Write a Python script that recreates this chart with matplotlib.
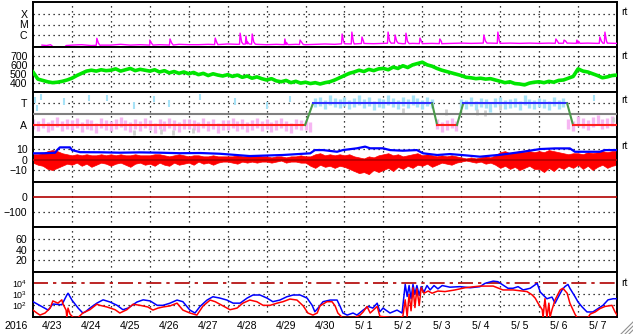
import numpy as np
import matplotlib
matplotlib.use("Agg")
import matplotlib.pyplot as plt
from matplotlib.lines import Line2D
from matplotlib.ticker import NullLocator

plt.rcParams["font.family"] = ["Liberation Sans", "DejaVu Sans"]
plt.rcParams["font.size"] = 7.6
plt.rcParams["mathtext.fontset"] = "custom"
plt.rcParams["mathtext.rm"] = "Liberation Sans"

# ---- data (time in days since 2016-04-23 00:00) ----
DATE_LABELS = ["4/23", "4/24", "4/25", "4/26", "4/27", "4/28", "4/29", "4/30",
               "5/ 1", "5/ 2", "5/ 3", "5/ 4", "5/ 5", "5/ 6", "5/ 7"]
YEAR = "2016"

# X-ray flux: quiet background + flares
xray_base_t = [0.23, 0.35, 0.45, 0.55, 0.8, 0.85, 1.0, 1.25, 1.5, 1.75, 2.0, 2.25, 2.5, 2.75,
               3.0, 3.25, 3.5, 3.75, 4.0, 4.25, 4.5, 4.75, 5.0, 5.25, 5.5, 5.75, 6.0, 6.25,
               6.5, 6.75, 7.0, 7.25, 7.5, 7.75, 8.0, 8.25, 8.5, 8.75, 9.0, 9.25, 9.5, 9.75,
               10.0, 10.25, 10.5, 10.75, 11.0, 11.25, 11.5, 11.75, 12.0, 12.25, 12.5, 12.75,
               13.0, 13.25, 13.5, 13.75, 14.0, 14.25, 14.5, 14.75, 15.0]
xray_base_f = [1.1e-7, 1.0e-7, 1.2e-7, 0.6e-7, 0.6e-7, 1.0e-7, 1.1e-7, 1.2e-7, 1.0e-7, 1.1e-7,
               1.1e-7, 1.3e-7, 1.1e-7, 1.2e-7, 1.1e-7, 1.2e-7, 1.1e-7, 1.3e-7, 1.2e-7, 1.2e-7,
               1.3e-7, 1.2e-7, 1.4e-7, 1.3e-7, 1.4e-7, 1.3e-7, 1.2e-7, 1.3e-7, 1.2e-7, 1.3e-7,
               1.2e-7, 1.3e-7, 1.4e-7, 1.3e-7, 1.5e-7, 1.4e-7, 1.6e-7, 1.5e-7, 1.6e-7, 1.7e-7,
               1.5e-7, 1.6e-7, 1.5e-7, 1.6e-7, 1.5e-7, 1.6e-7, 1.7e-7, 1.6e-7, 1.7e-7, 1.7e-7,
               1.6e-7, 1.7e-7, 1.6e-7, 1.7e-7, 1.6e-7, 1.7e-7, 1.6e-7, 1.7e-7, 1.6e-7, 1.7e-7,
               1.6e-7, 1.7e-7, 1.6e-7]
flare_t = [1.64, 3.0, 3.52, 4.68, 5.32, 5.47, 5.63, 6.47, 6.86, 7.94, 8.19, 8.45, 9.12,
           9.3, 9.58, 9.94, 10.45, 11.58, 11.94, 13.43, 13.64, 13.97, 14.56, 14.69]
flare_f = [4.9e-7, 3.3e-7, 4.2e-7, 5.1e-7, 1.5e-6, 8.0e-7, 1.25e-6, 4.2e-7, 3.3e-7, 1.25e-6,
           1.9e-6, 6.5e-7, 1.9e-6, 1.0e-6, 1.5e-6, 5.1e-7, 4.2e-7, 1.0e-6, 1.9e-6, 4.2e-7,
           3.3e-7, 3.3e-7, 6.5e-7, 1.9e-6]

# solar wind speed, every 3 h
speed = [520, 440, 425, 410, 400, 405, 415, 430,
         450, 480, 505, 530, 540, 530, 545, 535,
         540, 555, 530, 545, 560, 535, 550, 540,
         530, 545, 520, 535, 510, 525, 505, 520,
         500, 515, 490, 505, 480, 500, 485, 475,
         490, 470, 485, 460, 475, 450, 465, 445,
         430, 445, 420, 410, 425, 400, 415, 395,
         405, 390, 400, 385, 400, 410, 430, 455,
         480, 505, 520, 540, 525, 550, 535, 555,
         560, 545, 575, 560, 590, 570, 600, 615,
         630, 600, 585, 560, 540, 525, 510, 495,
         480, 460, 455, 445, 450, 440, 445, 430,
         415, 400, 410, 390, 385, 375, 395, 405,
         410, 400, 415, 405, 425, 430, 450, 470,
         555, 530, 520, 500, 480, 455, 465, 480,
         485]

# IMF direction (T = +1, A = -1), every 3 h
phi = [-0.9, -1.1, -0.8, -1.2, -1.0, -0.7, -1.1, -0.9,
       -1.0, -0.8, -1.2, -0.9, -1.0, -1.3, -0.8, -1.0,
       -1.1, -0.9, -0.7, -1.0, -1.2, -0.9, -1.1, -0.8,
       -1.0, -1.3, -0.9, -1.1, -0.8, -1.0, -1.2, -0.9,
       -0.9, -1.0, -1.2, -0.8, -1.1, -0.9, -1.3, -1.0,
       -1.0, -0.8, -1.1, -0.9, -1.2, -1.0, -0.8, -1.1,
       -0.9, -1.2, -1.0, -0.8, -1.1, -1.3, -0.9, -1.0,
       -1.0, -1.2, 1.1, 1.2, 0.9, 1.3, 1.1, 1.0,
       1.2, 0.9, 1.1, 1.3, 1.0, 1.2, 0.8, 1.1,
       1.0, 1.3, 1.1, 0.9, 1.2, 1.0, 1.3, 1.1,
       0.9, 1.2, 1.0, -0.9, -1.2, -1.0, -0.8, -1.1,
       1.0, 0.9, 1.2, 0.8, 1.1, 1.0, 0.7, 1.1,
       1.2, 0.9, 1.0, 1.1, 0.8, 1.3, 1.0, 0.9,
       1.1, 1.0, 0.8, 1.2, 0.9, 1.1, -0.9, -1.1,
       -0.6, -0.8, -1.0, -0.7, -0.5, -0.9, -0.8, -0.6,
       -0.8]
toward_out_t = [0.05, 0.1, 0.2, 0.8, 1.45, 1.9, 2.6, 3.1, 3.5, 4.3, 5.2, 6.0, 6.6, 14.4]
toward_out_v = [1.3, 0.6, 1.6, 1.2, 1.5, 1.5, 0.8, 1.4, 1.0, 1.6, 1.2, 0.8, 1.4, 1.5]
gray_out_t = [2.6, 3.3, 3.6, 4.1, 9.5, 10.6, 11.4, 11.6, 12.0, 14.9]
gray_out_v = [-1.7, -1.6, -1.7, -1.5, 0.3, 0.2, 0.2, 0.1, 0.6, -0.5]
sector_t = [0.0, 6.99, 7.19, 10.25, 10.38, 10.89, 11.05, 13.72, 13.87, 15.0]
sector_v = [-1, -1, 1, 1, -1, -1, 1, 1, -1, -1]

# IMF Bt and Bz envelope (nT)
bt_t = [0.0, 0.31, 0.57, 0.62, 0.69, 0.95, 1.0, 1.21, 1.72, 2.23, 2.75, 3.26, 3.78, 4.29,
        4.8, 5.57, 6.42, 7.12, 7.24, 7.45, 7.81, 7.96, 8.32, 8.53, 8.66, 8.99, 9.17, 9.5,
        9.86, 10.02, 10.38, 10.71, 11.1, 11.48, 12.0, 12.51, 13.03, 13.41, 13.79, 13.92,
        14.56, 14.69, 15.0]
bt = [5.9, 6.0, 6.5, 9.0, 11.6, 11.6, 9.0, 7.0, 6.9, 6.5, 6.8, 6.5, 6.0, 6.2,
      5.5, 3.3, 4.3, 5.9, 9.0, 9.0, 7.4, 9.0, 10.7, 12.3, 10.7, 10.7, 9.0, 8.4,
      9.0, 5.9, 4.3, 5.2, 4.0, 2.7, 4.5, 7.0, 10.0, 10.6, 10.6, 7.4,
      7.4, 9.0, 9.0]
bz_hi = [5, 5, 6, 8, 9, 8, 6, 5,
         4, 5, 4, 5, 4, 4, 5, 4,
         5, 4, 5, 4, 4, 5, 4, 4,
         4, 5, 5, 4, 3, 4, 5, 4,
         3, 4, 4, 3, 3, 4, 3, 3,
         3, 3, 4, 3, 3, 3, 4, 3,
         3, 2, 3, 3, 2, 3, 3, 4,
         3, 3, 5, 6, 4, 5, 4, 5,
         4, 5, 3, 2, 1, 3, 2, 4,
         5, 6, 4, 5, 3, 4, 5, 6,
         4, 5, 4, 3, 4, 3, 4, 3,
         2, 1, 2, 1, 2, 3, 2, 4,
         7, 8, 6, 7, 8, 7, 8, 7,
         8, 7, 9, 8, 7, 6, 5, 6,
         6, 5, 7, 6, 7, 8, 7, 8,
         8]
bz_lo = [-3, -5, -6, -9, -10, -8, -6, -4,
         -5, -3, -6, -4, -7, -5, -3, -4,
         -6, -4, -3, -5, -7, -4, -3, -5,
         -4, -6, -3, -5, -6, -3, -5, -4,
         -3, -5, -2, -4, -3, -5, -3, -2,
         -2, -3, -4, -2, -3, -2, -3, -2,
         -2, -3, -2, -1, -3, -2, -2, -3,
         -3, -6, -8, -5, -7, -6, -8, -6,
         -7, -9, -11, -13, -12, -14, -10, -12,
         -10, -8, -11, -7, -9, -6, -8, -5,
         -6, -4, -7, -5, -3, -4, -5, -3,
         -2, -1, -2, -3, -2, -4, -3, -5,
         -8, -6, -9, -7, -10, -8, -6, -9,
         -9, -12, -8, -11, -7, -9, -6, -8,
         -5, -9, -6, -10, -7, -5, -8, -6,
         -5]

# electron flux (two channels)
e_blue_t = [0.0, 0.39, 0.51, 0.74, 0.87, 0.9, 1.0, 1.16, 1.28, 1.34, 1.46, 1.64, 1.8, 1.98,
            2.16, 2.31, 2.44, 2.67, 2.83, 3.01, 3.19, 3.34, 3.52, 3.7, 3.85, 4.03, 4.16,
            4.29, 4.47, 4.62, 4.8, 4.98, 5.14, 5.32, 5.5, 5.65, 5.83, 6.01, 6.16, 6.34,
            6.52, 6.68, 6.86, 7.04, 7.17, 7.24, 7.32, 7.45, 7.63, 7.81, 7.89, 7.96, 8.07,
            8.22, 8.32, 8.48, 8.61, 8.73, 8.84, 8.91, 8.99, 9.17, 9.35, 9.48, 9.56, 9.61,
            9.66, 9.71, 9.76, 9.81, 9.86, 9.92, 9.97, 10.04, 10.12, 10.2, 10.3, 10.4,
            10.51, 10.71, 10.97, 11.23, 11.48, 11.61, 11.82, 11.94, 12.07, 12.2, 12.33,
            12.46, 12.59, 12.77, 12.95, 13.03, 13.2, 13.33, 13.41, 13.49, 13.59, 13.66,
            13.74, 13.79, 13.92, 14.0, 14.1, 14.23, 14.38, 14.51, 14.64, 14.77, 14.9, 15.0]
e_blue = [214, 37, 132, 112, 870, 1260, 302, 56, 20, 25, 56, 158, 316, 200,
          100, 40, 56, 200, 316, 251, 100, 100, 158, 302, 214, 37, 20,
          79, 302, 603, 457, 302, 158, 158, 457, 870, 870, 457, 214, 302,
          603, 870, 870, 457, 100, 26, 56, 214, 302, 302, 79, 20, 13,
          20, 13, 37, 79, 56, 158, 26, 56, 20, 37, 20, 7940, 630,
          6310, 400, 7940, 1000, 6310, 800, 5010, 1580, 6310, 2510, 6310, 3160,
          6310, 4470, 5010, 3980, 5010, 10000, 15800, 14100, 7080, 3550, 3550,
          5010, 2510, 3550, 10000, 1580, 398, 562, 158, 562, 2510, 5010,
          7940, 3550, 631, 200, 74, 25, 25, 50, 100, 316, 398, 398]
e_red_t = [0.0, 0.1, 0.18, 0.31, 0.44, 0.51, 0.64, 0.74, 0.77, 0.85, 0.87, 0.9, 0.95, 1.03,
           1.16, 1.28, 1.46, 1.64, 1.72, 1.9, 2.11, 2.23, 2.41, 2.57, 2.75, 2.95, 3.08,
           3.21, 3.34, 3.52, 3.7, 3.85, 4.03, 4.21, 4.37, 4.55, 4.68, 4.88, 5.06, 5.24,
           5.39, 5.57, 5.75, 5.91, 6.09, 6.27, 6.42, 6.6, 6.78, 6.94, 7.06, 7.19, 7.3,
           7.37, 7.55, 7.68, 7.76, 7.83, 7.94, 8.27, 8.4, 8.48, 8.58, 8.66, 8.84, 8.91,
           9.17, 9.43, 9.5, 9.56, 9.61, 9.66, 9.71, 9.76, 9.81, 9.86, 9.92, 9.97, 10.04,
           10.15, 10.25, 10.4, 10.58, 10.84, 11.1, 11.35, 11.48, 11.82, 12.07, 12.33,
           12.69, 12.82, 12.9, 12.97, 13.08, 13.1, 13.15, 13.2, 13.25, 13.28, 13.33,
           13.41, 13.54, 13.61, 13.72, 13.79, 13.92, 13.97, 14.26, 14.31, 14.44, 14.56,
           14.69, 14.87, 14.95, 15.0]
e_red = [37, 20, 13, 20, 56, 251, 158, 316, 132, 37, 8, 56, 16, 8,
         8, 20, 40, 126, 100, 71, 40, 20, 40, 126, 100, 71, 37,
         56, 71, 89, 158, 37, 20, 13, 89, 302, 214, 89, 40, 56,
         158, 302, 214, 100, 100, 158, 214, 372, 302, 89, 20, 13, 20,
         89, 214, 214, 89, 20, 8, 8, 13, 25, 79, 20, 79, 10,
         8, 8, 10, 316, 10, 1000, 32, 3980, 63, 3160, 100, 3980, 1260,
         2000, 1260, 2000, 1780, 2510, 3980, 5010, 5620, 5620, 2510, 2510,
         1780, 890, 447, 158, 40, 8, 398, 8, 158, 8, 40,
         316, 2510, 3550, 1260, 158, 16, 8, 8, 16, 25, 50,
         79, 100, 25, 13]
E_ALERT = 1e4

# ---- layout ----
W, H = 633, 334
L, R = 33, 617
TOPS = [2, 47, 92, 137, 182, 227, 272]
PH = 45
DOT = dict(color="black", lw=0.9, ls=(0, (1, 3)), zorder=1)

fig = plt.figure(figsize=(W / 100, H / 100), dpi=100)
axes = []
for top in TOPS:
    ax = fig.add_axes([L / W, 1 - (top + PH) / H, (R - L) / W, PH / H])
    ax.set_xlim(0, 15)
    ax.set_xticks([])
    ax.tick_params(length=0, pad=4)
    for s in ax.spines.values():
        s.set_linewidth(1.4)
    for d in range(1, 15):
        ax.axvline(d, **DOT)
    axes.append(ax)

def hgrid(ax, levels):
    for v in levels:
        ax.axhline(v, **DOT)

t3h = np.arange(len(speed)) * 0.125

# panel 1: X-ray
ax = axes[0]
ax.set_yscale("log")
ax.set_ylim(10 ** -7.14, 10 ** -2.86)
ax.yaxis.set_minor_locator(NullLocator())
ax.set_yticks([1e-6, 1e-5, 1e-4], ["C", "M", "X"])
hgrid(ax, [1e-6, 1e-5, 1e-4])
pts = list(zip(xray_base_t, xray_base_f))
for t, f in zip(flare_t, flare_f):
    b = np.interp(t, xray_base_t, xray_base_f)
    pts += [(t - 0.015, b), (t, f), (t + 0.04, b * 1.6), (t + 0.08, b)]
pts.sort()
ax.plot([p[0] for p in pts], [p[1] for p in pts], color="#ff00ff", lw=1.0, zorder=3)

# panel 2: solar wind speed
ax = axes[1]
ax.set_ylim(295, 801)
ax.set_yticks([400, 500, 600, 700])
hgrid(ax, [400, 500, 600, 700])
ax.plot(t3h, speed, color="#00e600", lw=2.6, zorder=3)

# panel 3: IMF sector
ax = axes[2]
ax.set_ylim(-2.12, 2.07)
ax.set_yticks([1, -1], ["T", "A"])
hgrid(ax, [1])
phi_a = np.array(phi)
cols = np.where(phi_a > 0, "#a6e2f7", "#f6b6f2")
ax.vlines(t3h, phi_a - 0.45, phi_a + 0.45, colors=cols, lw=2.4, zorder=2)
ax.vlines(toward_out_t, np.array(toward_out_v) - 0.3, np.array(toward_out_v) + 0.3,
          colors="#a6e2f7", lw=1.5, zorder=2)
ax.vlines(gray_out_t, np.array(gray_out_v) - 0.25, np.array(gray_out_v) + 0.25,
          colors="#cfcfcf", lw=2.0, zorder=2)
ax.axhline(0, color="#808080", lw=1.5, zorder=3)
for i in range(len(sector_t) - 1):
    v0, v1 = sector_v[i], sector_v[i + 1]
    c = "#ff2020" if v0 == v1 == -1 else ("#3030ff" if v0 == v1 == 1 else "#4a9a4a")
    ax.plot(sector_t[i:i + 2], sector_v[i:i + 2], color=c, lw=1.5, zorder=4)

# panel 4: IMF Bt / Bz (Bz shown as its high/low envelope)
ax = axes[3]
ax.set_ylim(-21.5, 21.5)
ax.set_yticks([10, 0, -10])
hgrid(ax, [10, -10])
ax.fill_between(t3h, bz_lo, bz_hi, color="#ff0000", lw=0.5, zorder=2)
ax.plot(bt_t, bt, color="#0000ff", lw=1.6, zorder=3)
ax.axhline(0, color="#b00000", lw=1.2, zorder=4)

# panel 5
ax = axes[4]
ax.set_ylim(-194, 94)
ax.set_yticks([0, -100])
hgrid(ax, [-100])
ax.axhline(0, color="#b00000", lw=1.2, zorder=3)

# panel 6
ax = axes[5]
ax.set_ylim(-1.7, 81.7)
ax.set_yticks([20, 40, 60])
hgrid(ax, [20, 40, 60])

# panel 7: electrons
ax = axes[6]
ax.set_yscale("log")
ax.set_ylim(10 ** 0.94, 10 ** 5.03)
ax.yaxis.set_minor_locator(NullLocator())
ax.set_yticks([1e2, 1e3, 1e4], ["$10^2$", "$10^3$", "$10^4$"])
ax.tick_params(axis="y", labelsize=6.4)
hgrid(ax, [1e2, 1e3])
ax.axhline(E_ALERT, color="#b00000", lw=1.2, ls=(0, (9, 3, 2, 3)), zorder=2)
ax.plot(e_blue_t, e_blue, color="#0000ff", lw=1.1, zorder=3)
ax.plot(e_red_t, e_red, color="#ff0000", lw=1.1, zorder=4)
ax.set_xticks(np.arange(15) + 0.5, DATE_LABELS)
ax.tick_params(axis="x", pad=3)

fig.text(16 / W, 1 - 326 / H, YEAR, ha="center", va="center")
for y in [12, 56, 100, 146, 283]:
    fig.text(621 / W, 1 - y / H, "rt", fontsize=7.5, ha="left", va="center")
for k in (4, 8, 12):
    fig.add_artist(Line2D([(W - k) / W, 1], [0, k / H], color="#909090", lw=0.8,
                          transform=fig.transFigure))

fig.savefig("out.png", dpi=100)
